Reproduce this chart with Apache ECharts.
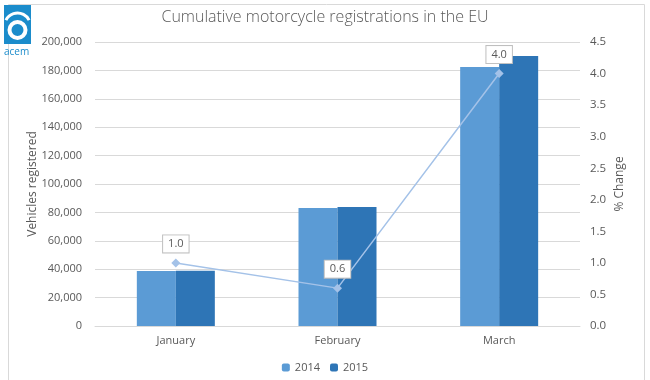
<!DOCTYPE html>
<html><head><meta charset="utf-8">
<script src="https://cdn.jsdelivr.net/npm/echarts@6/dist/echarts.min.js"></script>
<style>html,body{margin:0;padding:0;background:#fff}#c{width:650px;height:380px}</style>
</head><body><div id="c"></div>
<script>
const categories = ['January', 'February', 'March'];
const reg2014 = [38700, 83100, 182400];
const reg2015 = [38900, 83800, 190100];
const pctChange = [1.0, 0.6, 4.0];
const leftTicks = [0, 200000, 20000];
const rightTicks = [0, 4.5, 0.5];

const chart = echarts.init(document.getElementById('c'));
const font = '"Open Sans", "Noto Sans", sans-serif';
const txt = '#595959';
chart.setOption({
  animation: false,
  textStyle: { fontFamily: font },
  title: {
    text: 'Cumulative motorcycle registrations in the EU',
    left: 'center', top: 4,
    textStyle: { fontSize: 16, fontWeight: 'lighter', color: '#595959', fontFamily: font }
  },
  graphic: [
    { type: 'rect', left: 6, top: 2, shape: { width: 636, height: 376 }, style: { fill: 'none', stroke: '#d9d9d9', lineWidth: 1 }, z: -1 },
    { type: 'rect', left: 4, top: 5, shape: { width: 27, height: 39 }, style: { fill: '#1b8ccb' } },
    { type: 'circle', shape: { cx: 17.5, cy: 30, r: 8 }, style: { fill: 'none', stroke: '#fff', lineWidth: 4 } },
    { type: 'arc', shape: { cx: 17.5, cy: 26, r: 13, startAngle: Math.PI * 1.15, endAngle: Math.PI * 1.85 }, style: { fill: 'none', stroke: '#fff', lineWidth: 3 } },
    { type: 'text', left: 4, top: 47, style: { text: 'acem', fill: '#1b8ccb', font: '10px ' + font } }
  ],
  legend: {
    bottom: 2, left: 'center',
    itemWidth: 8, itemHeight: 8, itemGap: 10,
    textStyle: { color: txt, fontSize: 11 },
    data: ['2014', '2015']
  },
  grid: { left: 95, right: 70, top: 42, bottom: 54 },
  xAxis: {
    type: 'category', data: categories,
    axisLine: { lineStyle: { color: '#d9d9d9' } },
    axisTick: { show: false },
    axisLabel: { color: txt, fontSize: 11, margin: 9 }
  },
  yAxis: [
    {
      type: 'value', min: leftTicks[0], max: leftTicks[1], interval: leftTicks[2],
      name: 'Vehicles registered', nameLocation: 'middle', nameGap: 56, nameMoveOverlap: false,
      nameTextStyle: { color: txt, fontSize: 12 },
      axisLabel: { color: txt, fontSize: 11, margin: 13, formatter: v => v.toLocaleString('en-US') },
      splitLine: { lineStyle: { color: '#d9d9d9' } },
      axisLine: { show: false }, axisTick: { show: false }
    },
    {
      type: 'value', min: rightTicks[0], max: rightTicks[1], interval: rightTicks[2],
      name: '% Change', nameLocation: 'middle', nameGap: 34, nameMoveOverlap: false,
      nameTextStyle: { color: txt, fontSize: 12 },
      axisLabel: { color: txt, fontSize: 11.5, margin: 10, formatter: v => v.toFixed(1) },
      splitLine: { show: false },
      axisLine: { show: false }, axisTick: { show: false }
    }
  ],
  series: [
    { name: '2014', type: 'bar', data: reg2014, barWidth: 39, barGap: '0%', itemStyle: { color: '#5b9bd5' } },
    { name: '2015', type: 'bar', data: reg2015, barWidth: 39, itemStyle: { color: '#2e75b6' } },
    {
      name: '% Change', type: 'line', yAxisIndex: 1, data: pctChange,
      symbol: 'diamond', symbolSize: 9,
      lineStyle: { color: '#a4c2e8', width: 1.5 },
      itemStyle: { color: '#a4c2e8' },
      label: {
        show: true, position: 'top', distance: 6,
        formatter: p => p.value.toFixed(1),
        color: txt, fontSize: 11,
        backgroundColor: '#fff', borderColor: '#bfbfbf', borderWidth: 1,
        padding: [3, 5]
      }
    }
  ]
});
</script></body></html>
